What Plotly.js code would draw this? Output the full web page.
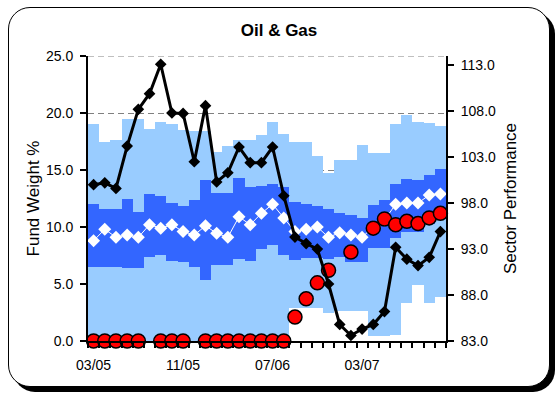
<!DOCTYPE html>
<html><head><meta charset="utf-8">
<script src="https://cdn.plot.ly/plotly-3.0.1.min.js"></script>
<style>
html,body{margin:0;padding:0;background:#fff;}
#frame{position:absolute;left:8px;top:7px;width:542px;height:380px;box-sizing:border-box;border:1.5px solid #000;border-radius:22px;box-shadow:5px 5px 0 #000;background:#fff;}
#chart{position:absolute;left:0;top:0;width:558px;height:394px;}
</style></head><body>
<div id="frame"></div><div id="chart"></div>
<script>
const months = ['03/05','04/05','05/05','06/05','07/05','08/05','09/05','10/05','11/05','12/05',
  '01/06','02/06','03/06','04/06','05/06','06/06','07/06','08/06','09/06','10/06','11/06','12/06',
  '01/07','02/07','03/07','04/07','05/07','06/07','07/07','08/07','09/07','10/07'];
const labelMonths = ['03/05','11/05','07/06','03/07'];
// Sector performance (right axis)
const sector = [100.0,100.2,99.6,104.2,108.2,109.9,113.1,107.8,107.75,102.5,108.6,100.3,101.3,104.1,102.4,102.4,
  104.1,98.8,94.3,93.6,93.0,89.2,84.8,83.6,84.3,84.8,86.2,93.2,91.9,91.2,92.1,94.9];
// Fund weight % (left axis)
const fund = [0,0,0,0,0,null,0,0,0,null,0,0,0,0,0,0,0,0,2.1,3.7,5.1,6.2,null,7.8,null,9.9,10.7,10.2,10.5,10.3,10.8,11.2];
// Peer median weight %
const median = [8.8,9.8,9.1,9.3,9.1,10.2,9.9,10.2,9.6,9.3,10.1,9.45,9.1,10.9,10.2,11.2,12.0,10.8,9.6,9.8,10.0,9.1,9.5,9.3,9.1,
  10.0,10.6,12.0,12.1,12.1,12.8,12.9];
// Peer ranges
const outerLow = [0,0,0,0,0,0,0,0,0,0,0,0,0,0,0,0,0,0,2.9,2.9,2.9,2.5,2.6,2.6,2.6,0.4,0.4,0.5,3.3,4.9,3.3,3.9];
const innerLow = [6.5,6.45,6.5,6.4,6.4,7.4,7.55,7.05,6.95,6.45,5.35,6.65,6.65,7.2,7.05,8.1,8.4,7.55,7.1,7.3,7.3,7.2,7.4,6.9,6.9,
  8.2,8.2,9.0,9.6,9.6,10.3,10.8];
const innerHigh = [12.0,11.55,11.55,12.5,11.3,12.9,12.75,12.1,11.8,12.4,14.1,12.95,12.95,14.3,13.5,13.6,13.8,13.5,12.2,12.0,11.85,
  11.55,11.2,11.05,10.8,11.9,12.4,13.8,14.2,14.1,14.6,15.1];
const outerHigh = [19.0,17.5,17.6,19.5,19.5,18.6,19.2,19.0,18.5,18.4,18.4,16.6,17.1,17.6,17.6,18.1,19.2,18.2,17.5,17.5,16.2,
  14.7,15.9,15.9,17.2,16.5,16.5,19.0,19.8,19.2,19.1,18.9];

const idx = months.map((m, i) => i);
const labelIdx = labelMonths.map(m => months.indexOf(m));

const traces = [
  {type:'bar', x: idx, base: outerLow, y: outerHigh.map((v,i)=>v-outerLow[i]), width:1,
   marker:{color:'#99CCFF', line:{width:0}}, hoverinfo:'skip'},
  {type:'bar', x: idx, base: innerLow, y: innerHigh.map((v,i)=>v-innerLow[i]), width:1,
   marker:{color:'#3366FF', line:{width:0}}, hoverinfo:'skip'},
  {type:'scatter', mode:'lines+markers', x: idx, y: median, line:{color:'#FFFFFF', width:1},
   marker:{symbol:'diamond', size:10, color:'#FFFFFF'}},
  {type:'scatter', mode:'markers', x: idx, y: fund, cliponaxis:false,
   marker:{symbol:'circle', size:14, color:'#FF0000', line:{color:'#000000', width:1.5}}},
  {type:'scatter', mode:'lines+markers', x: idx, y: sector, yaxis:'y2', cliponaxis:false,
   line:{color:'#000000', width:3}, marker:{symbol:'diamond', size:9, color:'#000000'}}
];

const layout = {
  width:558, height:394,
  margin:{l:88, r:112, t:56, b:53, pad:0},
  paper_bgcolor:'rgba(0,0,0,0)', plot_bgcolor:'rgba(0,0,0,0)',
  barmode:'overlay', bargap:0, showlegend:false,
  font:{family:'"Liberation Sans", Arial, sans-serif', size:14, color:'#000'},
  title:{text:'<b>Oil & Gas</b>', x:0.5, xanchor:'center', y:1-30/394, yanchor:'middle', font:{size:17}},
  xaxis:{range:[-0.5,31.5], tickmode:'array', tickvals:labelIdx, ticktext:labelMonths, ticks:'',
    showgrid:false, zeroline:false, showline:true, linecolor:'#000', linewidth:2,
    minor:{tickmode:'linear', tick0:-0.5, dtick:1, ticks:'outside', ticklen:5, tickwidth:2, tickcolor:'#000', showgrid:false},
    tickfont:{size:14}, ticklabelstandoff:10},
  yaxis:{range:[0,25], tickmode:'linear', tick0:0, dtick:5, tickformat:'.1f', ticks:'outside', ticklen:6, tickwidth:1.5,
    tickcolor:'#000', showline:true, linewidth:2, linecolor:'#000', showgrid:true, gridcolor:'#808080',
    griddash:'6px,4px', gridwidth:1, zeroline:false, ticklabelstandoff:4,
    title:{text:'Fund Weight %', font:{size:17}, standoff:2}},
  yaxis2:{overlaying:'y', side:'right', range:[83,114], tickmode:'linear', tick0:83, dtick:5, tickformat:'.1f',
    ticks:'outside', ticklen:6, tickwidth:1.5, tickcolor:'#000', showline:true, linecolor:'#000', linewidth:2,
    showgrid:false, zeroline:false, ticklabelstandoff:4,
    title:{text:'Sector Performance', font:{size:17}, standoff:9}},
  shapes:[{type:'line', xref:'paper', yref:'y', x0:0, x1:1, y0:25, y1:25, layer:'below',
    line:{color:'#808080', width:1, dash:'6px,4px'}}]
};

Plotly.newPlot('chart', traces, layout, {displayModeBar:false, staticPlot:true});
</script>
</body></html>
